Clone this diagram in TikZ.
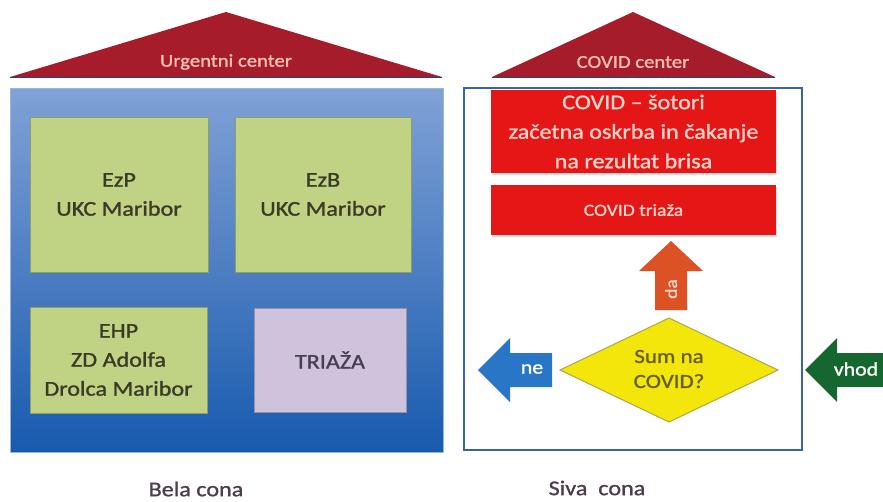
\documentclass[tikz,border=0pt]{standalone}
\usepackage{fontspec}
\setmainfont{Carlito}[FakeStretch=1.15,FakeBold=1.2]
\usetikzlibrary{shadows}
\definecolor{roofred}{RGB}{166,28,42}
\definecolor{rooftxt}{RGB}{246,192,182}
\definecolor{bluetop}{RGB}{128,162,214}
\definecolor{bluemid}{RGB}{78,128,198}
\definecolor{bluebot}{RGB}{24,90,174}
\definecolor{greenfill}{RGB}{192,210,132}
\definecolor{greentxt}{RGB}{58,58,38}
\definecolor{purplefill}{RGB}{206,194,220}
\definecolor{purpletxt}{RGB}{72,62,82}
\definecolor{covred}{RGB}{228,22,22}
\definecolor{covtxt}{RGB}{255,212,204}
\definecolor{framecol}{RGB}{58,100,160}
\definecolor{diamfill}{RGB}{242,230,10}
\definecolor{diamline}{RGB}{176,166,70}
\definecolor{diamtxt}{RGB}{104,94,34}
\definecolor{nearrow}{RGB}{42,118,198}
\definecolor{vhodarrow}{RGB}{22,102,48}
\definecolor{daarrow}{RGB}{220,82,36}
\definecolor{labtxt}{RGB}{76,62,76}
\tikzset{
  roof/.style={fill=roofred},
  rooflabel/.style={text=rooftxt, font=\fontsize{18}{21}\selectfont},
  greenbox/.style={fill=greenfill, draw=greenfill!75!black, line width=0.6pt, inner sep=0pt, align=center, text=greentxt, font=\fontsize{21}{29}\selectfont},
  purplebox/.style={fill=purplefill, draw=purplefill!75!black, line width=0.6pt, inner sep=0pt, align=center, text=purpletxt, font=\fontsize{21}{29}\selectfont},
  redbox/.style={fill=covred, inner sep=0pt, align=center, text=covtxt, drop shadow={opacity=0.25, shadow xshift=1pt, shadow yshift=-1.5pt}},
  arrowtxt/.style={text=white, font=\fontsize{19}{22}\selectfont},
  zonelabel/.style={text=labtxt, font=\fontsize{21}{25}\selectfont},
}
\begin{document}
\begin{tikzpicture}[x=1pt,y=-1pt]
\useasboundingbox (0,0) rectangle (883,501);

% ---------- left: Urgentni center ----------
\fill[roof] (10,77) -- (226,12) -- (442,77) -- cycle;
\draw[framecol!70!black, line width=1pt] (10,77.5) -- (442,77.5);
\node[rooflabel] (urg) at (226,62) {Urgentni center};

\shade[top color=bluetop, middle color=bluemid, bottom color=bluebot] (10,88) rectangle (443,452);
\draw[bluetop!80!white, line width=0.6pt] (10,88) rectangle (443,452);

\node[greenbox, minimum width=178pt, minimum height=155pt] (ezp) at (119,194.5) {EzP\\UKC Maribor};
\node[greenbox, minimum width=176pt, minimum height=155pt] (ezb) at (323,194.5) {EzB\\UKC Maribor};
\node[greenbox, minimum width=177pt, minimum height=106pt] (ehp) at (118.5,360) {EHP\\ZD Adolfa\\Drolca Maribor};
\node[purplebox, minimum width=152pt, minimum height=104pt] (tri) at (330,360) {TRIAŽA};

\node[zonelabel] (bela) at (196,489) {Bela cona};

% ---------- right: COVID center ----------
\fill[roof] (492,77) -- (633,12) -- (775,77) -- cycle;
\draw[framecol!70!black, line width=1pt] (492,77.5) -- (775,77.5);
\node[rooflabel] (cov) at (633,62) {COVID center};

\draw[framecol, line width=2pt] (464,88) rectangle (802,450);

\node[redbox, minimum width=285pt, minimum height=83pt, font=\fontsize{21}{29.5}\selectfont] (sotori) at (633.5,131.5) {COVID – šotori\\začetna oskrba in čakanje\\na rezultat brisa};
\node[redbox, minimum width=285pt, minimum height=50pt, font=\fontsize{17}{20}\selectfont] (ctri) at (633.5,210) {COVID triaža};

% up arrow "da"
\fill[daarrow] (671,241) -- (703,271) -- (687,271) -- (687,310) -- (655,310) -- (655,271) -- (639,271) -- cycle;
\node[text=covtxt, rotate=90, font=\fontsize{17}{20}\selectfont] (da) at (671,289) {da};

% diamond
\filldraw[fill=diamfill, draw=diamline, line width=1pt] (560,370) -- (669,318) -- (778,370) -- (669,422) -- cycle;
\node[align=center, text=diamtxt, font=\fontsize{20}{25}\selectfont] (sum) at (669,369) {Sum na\\COVID?};

% left arrow "ne"
\fill[nearrow] (478,370) -- (510,338) -- (510,353) -- (552,353) -- (552,387) -- (510,387) -- (510,402) -- cycle;
\node[arrowtxt] (ne) at (532,369) {ne};

% green arrow "vhod"
\fill[vhodarrow] (805,370) -- (837,338) -- (837,353) -- (883,353) -- (883,387) -- (837,387) -- (837,402) -- cycle;
\node[arrowtxt] (vhod) at (856,369) {vhod};

\node[zonelabel] (siva) at (597,488) {Siva\ \ cona};
\end{tikzpicture}
\end{document}
